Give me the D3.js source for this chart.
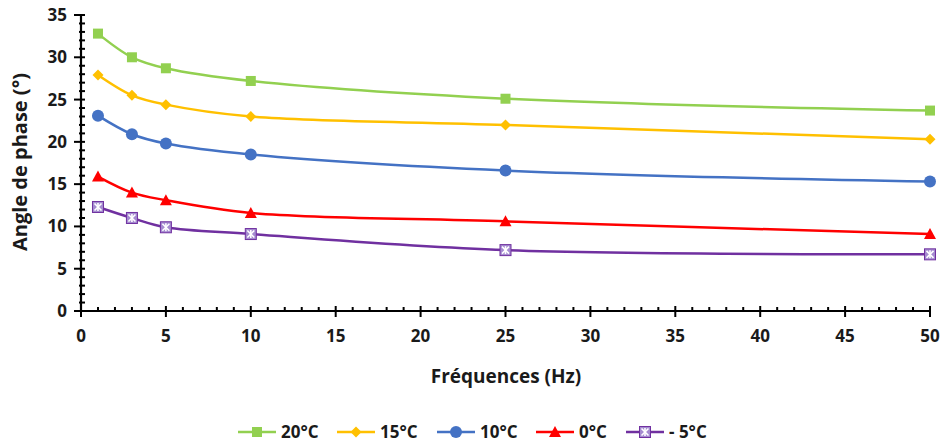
<!DOCTYPE html>
<html><head><meta charset="utf-8">
<script src="https://cdn.jsdelivr.net/npm/d3@7"></script>
<style>body{margin:0;background:#fff}svg{display:block}text{font-family:"Open Sans","Liberation Sans",sans-serif}</style>
</head><body><svg id="c" width="945" height="447"></svg>
<script>
const freqs = [1, 3, 5, 10, 25, 50];
const seriesNames = ["20°C", "15°C", "10°C", "0°C", "- 5°C"];
const s20 = [32.8, 30.0, 28.7, 27.2, 25.1, 23.7];
const s15 = [27.9, 25.5, 24.4, 23.0, 22.0, 20.3];
const s10 = [23.1, 20.9, 19.8, 18.5, 16.6, 15.3];
const s0 = [15.9, 14.0, 13.1, 11.6, 10.6, 9.1];
const sm5 = [12.3, 11.0, 9.9, 9.1, 7.2, 6.7];
const xTicks = [0, 5, 10, 15, 20, 25, 30, 35, 40, 45, 50];
const yTicks = [0, 5, 10, 15, 20, 25, 30, 35];

const colors = ["#92D050", "#FFC000", "#4472C4", "#FF0000", "#7030A0"];
const markers = ["square", "diamond", "circle", "triangle", "star"];
const allSeries = [s20, s15, s10, s0, sm5];

const svg = d3.select("#c");
const x = d3.scaleLinear().domain([0, 50]).range([81, 930]);
const y = d3.scaleLinear().domain([0, 35]).range([311, 15]);

// axes
const xAxis = svg.append("g").attr("transform", `translate(0,${y(0)})`);
xAxis.append("line").attr("x1", x(0)).attr("x2", x(50)).attr("stroke", "#000").attr("stroke-width", 2.2);
d3.range(0, 51, 1).forEach(v => {
  const major = v % 5 === 0;
  xAxis.append("line").attr("x1", x(v)).attr("x2", x(v))
    .attr("y1", major ? -5 : -4).attr("y2", major ? 6 : 1)
    .attr("stroke", "#000").attr("stroke-width", 2);
});
xAxis.selectAll("text.t").data(xTicks).join("text").attr("class", "t")
  .attr("x", d => x(d)).attr("y", 31).attr("text-anchor", "middle")
  .attr("font-size", 17).attr("font-weight", "bold").attr("fill", "#1a1a1a").text(d => d);

const yAxis = svg.append("g").attr("transform", `translate(${x(0)},0)`);
yAxis.append("line").attr("y1", y(0)).attr("y2", y(35)).attr("stroke", "#000").attr("stroke-width", 2.2);
d3.range(0, 36, 1).forEach(v => {
  const major = v % 5 === 0;
  yAxis.append("line").attr("y1", y(v)).attr("y2", y(v))
    .attr("x1", major ? -7 : -2).attr("x2", major ? 4 : 4)
    .attr("stroke", "#000").attr("stroke-width", 2);
});
yAxis.selectAll("text.t").data(yTicks).join("text").attr("class", "t")
  .attr("x", -14).attr("y", d => y(d) + 6).attr("text-anchor", "end")
  .attr("font-size", 17).attr("font-weight", "bold").attr("fill", "#1a1a1a").text(d => d);

svg.append("text").attr("x", 506).attr("y", 383).attr("text-anchor", "middle")
  .attr("font-size", 19).attr("font-weight", "bold").attr("fill", "#1a1a1a").text("Fréquences (Hz)");
svg.append("text").attr("transform", "translate(27,162) rotate(-90)").attr("text-anchor", "middle")
  .attr("font-size", 20).attr("font-weight", "bold").attr("fill", "#1a1a1a").text("Angle de phase (°)");

function drawMarker(g, type, cx, cy, color) {
  if (type === "square") {
    g.append("rect").attr("x", cx - 5).attr("y", cy - 5).attr("width", 10).attr("height", 10).attr("fill", color);
  } else if (type === "diamond") {
    g.append("path").attr("d", `M${cx},${cy-5.5}L${cx+5.5},${cy}L${cx},${cy+5.5}L${cx-5.5},${cy}Z`).attr("fill", color);
  } else if (type === "circle") {
    g.append("circle").attr("cx", cx).attr("cy", cy).attr("r", 6).attr("fill", color);
  } else if (type === "triangle") {
    g.append("path").attr("d", `M${cx},${cy-6}L${cx+6},${cy+5}L${cx-6},${cy+5}Z`).attr("fill", color);
  } else {
    g.append("rect").attr("x", cx - 5.5).attr("y", cy - 5.5).attr("width", 11).attr("height", 11)
      .attr("fill", "#A58BD0").attr("stroke", color).attr("stroke-width", 1);
    const w = g.append("g").attr("stroke", "#fff").attr("stroke-width", 1.6);
    w.append("line").attr("x1", cx - 3.5).attr("y1", cy - 3.5).attr("x2", cx + 3.5).attr("y2", cy + 3.5);
    w.append("line").attr("x1", cx - 3.5).attr("y1", cy + 3.5).attr("x2", cx + 3.5).attr("y2", cy - 3.5);
    w.append("line").attr("x1", cx).attr("y1", cy - 4).attr("x2", cx).attr("y2", cy + 4);
  }
}

const line = d3.line().x(d => x(d[0])).y(d => y(d[1])).curve(d3.curveCatmullRom.alpha(0.5));
allSeries.forEach((vals, i) => {
  const pts = freqs.map((f, j) => [f, vals[j]]);
  svg.append("path").attr("d", line(pts)).attr("fill", "none").attr("stroke", colors[i]).attr("stroke-width", 2.5);
  const g = svg.append("g");
  pts.forEach(p => drawMarker(g, markers[i], x(p[0]), y(p[1]), colors[i]));
});

// legend
const legX = [238, 337, 437, 536, 626];
seriesNames.forEach((n, i) => {
  const g = svg.append("g");
  const lx = legX[i], ly = 432;
  g.append("line").attr("x1", lx).attr("x2", lx + 38).attr("y1", ly).attr("y2", ly).attr("stroke", colors[i]).attr("stroke-width", 2.5);
  drawMarker(g, markers[i], lx + 19, ly, colors[i]);
  g.append("text").attr("x", lx + 43).attr("y", ly + 6).attr("font-size", 17).attr("font-weight", "bold").attr("fill", "#1a1a1a").text(n);
});
</script></body></html>
